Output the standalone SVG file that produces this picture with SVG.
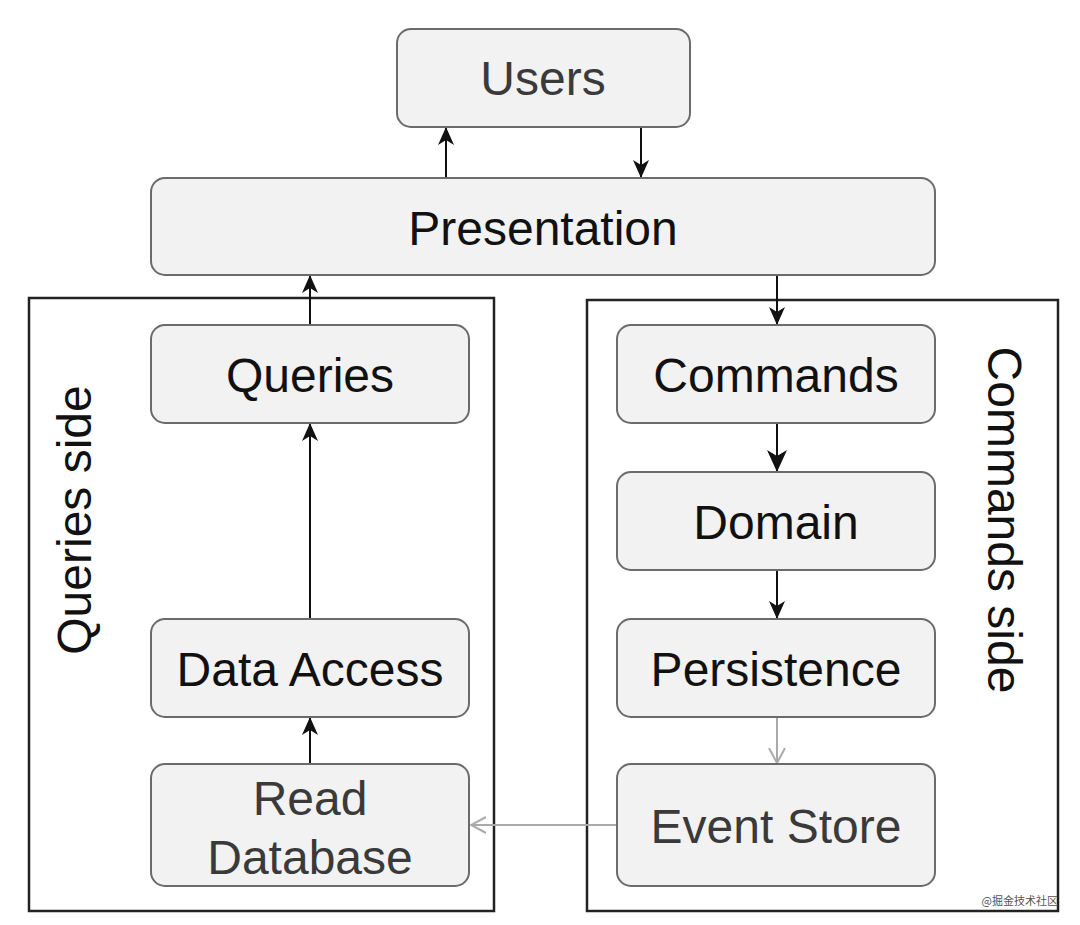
<svg xmlns="http://www.w3.org/2000/svg" width="1080" height="925" viewBox="0 0 1080 925">
<style>
.box{fill:#f2f2f2;stroke:#6b6b6b;stroke-width:2}
.cont{fill:none;stroke:#222;stroke-width:2.5}
.t{font-family:"Liberation Sans",Arial,sans-serif;font-size:48px;text-anchor:middle;fill:#111}
.g{fill:#3a3a3a}
.c{fill:none;stroke:#111;stroke-width:2}
.cg{fill:none;stroke:#aaa;stroke-width:2}
</style>
<defs>
<marker id="ah" viewBox="0 0 18 18" refX="17" refY="9" markerWidth="18" markerHeight="18" markerUnits="userSpaceOnUse" orient="auto">
<path d="M0,1 L18,9 L0,17 L5,9 Z" fill="#111"/>
</marker>
<marker id="ahb" viewBox="0 0 22 22" refX="21" refY="11" markerWidth="22" markerHeight="22" markerUnits="userSpaceOnUse" orient="auto">
<path d="M0,1 L22,11 L0,21 L6,11 Z" fill="#111"/>
</marker>
<marker id="ahg" viewBox="0 0 16 18" refX="15" refY="9" markerWidth="16" markerHeight="18" markerUnits="userSpaceOnUse" orient="auto">
<path d="M0,1 L15,9 L0,17" fill="none" stroke="#aaa" stroke-width="2"/>
</marker>
</defs>
<rect width="1080" height="925" fill="#fff"/>
<g id="queries-side">
<rect class="cont" x="29" y="298" width="465" height="613"/>
<text class="t" transform="translate(91,520) rotate(-90)">Queries side</text>
</g>
<g id="commands-side">
<rect class="cont" x="587" y="300" width="471" height="611"/>
<text class="t" transform="translate(988,520) rotate(90)">Commands side</text>
</g>
<g id="connectors">
<line class="c" x1="446" y1="178" x2="446" y2="128" marker-end="url(#ah)"/>
<line class="c" x1="641" y1="127" x2="641" y2="177" marker-end="url(#ah)"/>
<line class="c" x1="310" y1="325" x2="310" y2="276" marker-end="url(#ah)"/>
<line class="c" x1="777" y1="275" x2="777" y2="324" marker-end="url(#ah)"/>
<line class="c" x1="310" y1="619" x2="310" y2="424" marker-end="url(#ah)"/>
<line class="c" x1="310" y1="764" x2="310" y2="718" marker-end="url(#ah)"/>
<line class="c" x1="777" y1="423" x2="777" y2="471" stroke-width="3" marker-end="url(#ahb)"/>
<line class="c" x1="777" y1="570" x2="777" y2="618" marker-end="url(#ah)"/>
<line class="cg" x1="777" y1="717" x2="777" y2="763" marker-end="url(#ahg)"/>
<line class="cg" x1="617" y1="825" x2="471" y2="825" marker-end="url(#ahg)"/>
</g>
<g id="users">
<rect class="box" x="397" y="29" width="293" height="98" rx="14"/>
<text class="t g" x="543" y="95">Users</text>
</g>
<g id="presentation">
<rect class="box" x="151" y="178" width="784" height="97" rx="14"/>
<text class="t" x="543" y="245">Presentation</text>
</g>
<g id="queries">
<rect class="box" x="151" y="325" width="318" height="98" rx="14"/>
<text class="t" x="310" y="392">Queries</text>
</g>
<g id="data-access">
<rect class="box" x="151" y="619" width="318" height="98" rx="14"/>
<text class="t" x="310" y="686">Data Access</text>
</g>
<g id="read-database">
<rect class="box" x="151" y="764" width="318" height="122" rx="14"/>
<text class="t g" x="310" y="815">Read</text>
<text class="t g" x="310" y="874">Database</text>
</g>
<g id="commands">
<rect class="box" x="617" y="325" width="318" height="98" rx="14"/>
<text class="t" x="776" y="392">Commands</text>
</g>
<g id="domain">
<rect class="box" x="617" y="472" width="318" height="98" rx="14"/>
<text class="t" x="776" y="539">Domain</text>
</g>
<g id="persistence">
<rect class="box" x="617" y="619" width="318" height="98" rx="14"/>
<text class="t" x="776" y="686">Persistence</text>
</g>
<g id="event-store">
<rect class="box" x="617" y="764" width="318" height="122" rx="14"/>
<text class="t g" x="776" y="843">Event Store</text>
</g>
<text x="1058" y="905" font-family="'Noto Sans CJK SC',sans-serif" font-size="11" text-anchor="end" fill="#555">@掘金技术社区</text>
</svg>
